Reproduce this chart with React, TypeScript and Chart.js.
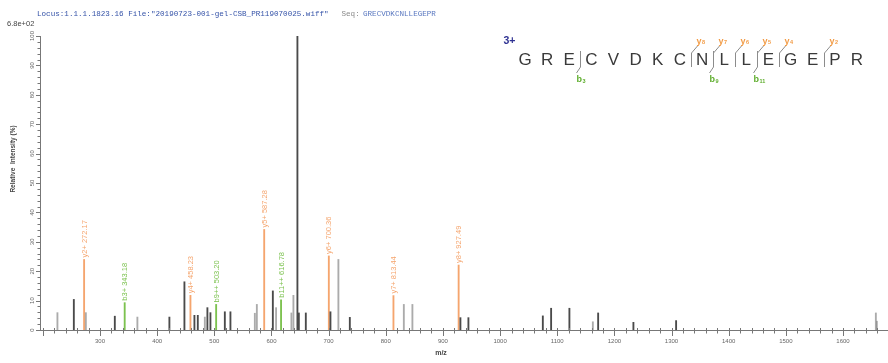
import { useEffect, useRef } from "react";
import { Chart, registerables } from "chart.js";

Chart.register(...registerables);

// ---- header / annotation text ----
const locusText = 'Locus:1.1.1.1823.16 File:"20190723-001-gel-CSB_PR119070025.wiff"';
const seqLabel = "Seq:";
const peptide = "GRECVDKCNLLEGEPR";
const maxIntensityText = "6.8e+02";
const precursorCharge = "3+";

// ---- axis ticks ----
const xTickValues = [300, 400, 500, 600, 700, 800, 900, 1000, 1100, 1200, 1300, 1400, 1500, 1600];
const yTickValues = [0, 10, 20, 30, 40, 50, 60, 70, 80, 90, 100];

// ---- unassigned peaks (m/z, relative intensity %) ----
const darkMz = [254.2, 325.9, 421.4, 447.7, 465.2, 471.1, 487.9, 493.2, 518.4, 528.2, 602.4, 645.4, 647.9, 660.1, 703.2, 737.1, 930.6, 944.6, 1074.8, 1089.3, 1121.3, 1171.6, 1233.3, 1308.0, 1658.5];
const darkInt = [10.4, 4.7, 4.4, 16.4, 5.0, 5.0, 7.6, 5.9, 6.2, 6.2, 13.3, 100, 5.8, 5.8, 6.2, 4.3, 4.2, 4.2, 4.8, 7.4, 7.4, 5.8, 2.6, 3.2, 3.0];
const lightMz = [225.5, 275.2, 365.4, 483.4, 570.9, 574.4, 608.1, 634.9, 638.4, 717.1, 831.6, 846.6, 1162.3, 1657.5];
const lightInt = [5.9, 5.9, 4.4, 4.4, 5.7, 8.7, 7.6, 5.8, 11.8, 24.0, 8.7, 8.7, 2.8, 5.8];

// ---- assigned fragment ions ----
const yIonNames = ["y2+", "y4+", "y5+", "y6+", "y7+", "y8+"];
const yIonMz = [272.17, 458.23, 587.28, 700.36, 813.44, 927.49];
const yIonInt = [24.0, 11.8, 34.2, 25.2, 11.7, 22.1];
const bIonNames = ["b3+", "b9++", "b11++"];
const bIonMz = [343.18, 503.2, 616.78];
const bIonInt = [9.3, 8.7, 10.3];

// fragment sites marked on the peptide
const yFragments = [8, 7, 6, 5, 4, 2];
const bFragments = [3, 9, 11];

const ORANGE = "#f5a56e";
const GREEN = "#7cc24f";
const SEQ_ORANGE = "#f29b45";
const SEQ_GREEN = "#5fae2e";
const DARK = "#4a4a4a";
const LIGHT = "#ababab";

const pts = (xs: number[], ys: number[]) => xs.map((x, i) => ({ x, y: ys[i] }));

const sans = "'Liberation Sans', Arial, sans-serif";

const decorPlugin = {
  id: "spectrumDecor",
  afterDatasetsDraw(chart: any) {
    const { ctx, chartArea } = chart;
    const xs = chart.scales.x;
    const ys = chart.scales.y;
    ctx.save();

    // peak annotations, written upward from the top of each ion stick
    const annotate = (dsIndex: number, names: string[], mzs: number[], color: string) => {
      const meta = chart.getDatasetMeta(dsIndex);
      meta.data.forEach((el: any, i: number) => {
        ctx.save();
        ctx.translate(el.x, el.y - 2);
        ctx.rotate(-Math.PI / 2);
        ctx.font = `7.5px ${sans}`;
        ctx.fillStyle = color;
        ctx.textAlign = "left";
        ctx.textBaseline = "middle";
        ctx.fillText(`${names[i]} ${mzs[i].toFixed(2)}`, 0, 0.5);
        ctx.restore();
      });
    };
    annotate(2, yIonNames, yIonMz, ORANGE);
    annotate(3, bIonNames, bIonMz, GREEN);

    // x ticks: minor every 20, major every 100
    ctx.strokeStyle = "#777";
    ctx.lineWidth = 1;
    const bottom = chartArea.bottom;
    for (let v = 200; v <= xs.max; v += 20) {
      if (v < xs.min) continue;
      const px = Math.round(xs.getPixelForValue(v)) + 0.5;
      const major = v % 100 === 0;
      ctx.beginPath();
      ctx.moveTo(px, bottom - 2);
      ctx.lineTo(px, bottom + (major ? 6 : 3.5));
      ctx.stroke();
    }

    // y ticks: minor every 2, major every 10
    const left = chartArea.left;
    for (let v = 0; v <= 100; v += 2) {
      const py = Math.round(ys.getPixelForValue(v)) + 0.5;
      const major = v % 10 === 0;
      ctx.beginPath();
      ctx.moveTo(left - (major ? 4 : 2.5), py);
      ctx.lineTo(left, py);
      ctx.stroke();
    }

    // y tick labels, rotated
    ctx.fillStyle = "#666";
    ctx.font = `6px ${sans}`;
    yTickValues.forEach((v) => {
      const py = ys.getPixelForValue(v);
      ctx.save();
      ctx.translate(left - 4.5, py);
      ctx.rotate(-Math.PI / 2);
      ctx.textAlign = "center";
      ctx.textBaseline = "bottom";
      ctx.fillText(String(v), 0, 0);
      ctx.restore();
    });

    // axis titles
    ctx.fillStyle = "#444";
    ctx.font = `bold 6.5px ${sans}`;
    ctx.save();
    ctx.translate(13, 159);
    ctx.rotate(-Math.PI / 2);
    ctx.textAlign = "center";
    ctx.textBaseline = "middle";
    ctx.fillText("Relative  Intensity (%)", 0, 0);
    ctx.restore();
    ctx.textAlign = "center";
    ctx.textBaseline = "middle";
    ctx.font = `bold 7px ${sans}`;
    ctx.fillText("m/z", 441, 353);

    // header line
    ctx.textAlign = "left";
    ctx.textBaseline = "middle";
    ctx.font = "7.6px 'Liberation Mono', 'DejaVu Sans Mono', monospace";
    ctx.fillStyle = "#3553a8";
    ctx.fillText(locusText, 37, 13.5);
    ctx.fillStyle = "#8a8a8a";
    ctx.fillText(seqLabel, 341.5, 13.5);
    ctx.fillStyle = "#5a78c0";
    ctx.fillText(peptide, 363, 13.5);

    // base peak intensity
    ctx.fillStyle = "#444";
    ctx.font = `7.5px ${sans}`;
    ctx.fillText(maxIntensityText, 7, 23.5);

    // peptide with fragment brackets
    const x0 = 525;
    const step = 22.13;
    const base = 65;
    ctx.fillStyle = "#2e3192";
    ctx.font = `bold 10.5px ${sans}`;
    ctx.textAlign = "left";
    ctx.textBaseline = "alphabetic";
    ctx.fillText(precursorCharge, 503.5, 44);

    ctx.fillStyle = "#3a3a3a";
    ctx.font = `17px ${sans}`;
    ctx.textAlign = "center";
    peptide.split("").forEach((ch, i) => ctx.fillText(ch, x0 + i * step, base));

    const sepX = (k: number) => Math.round(x0 + (k + 0.5) * step) + 0.5;
    ctx.strokeStyle = "#8c8c8c";
    ctx.lineWidth = 1;
    const drawIonLabel = (letter: string, num: number, x: number, y: number, color: string) => {
      ctx.fillStyle = color;
      ctx.textAlign = "left";
      ctx.font = `bold 9px ${sans}`;
      ctx.fillText(letter, x, y);
      const w = ctx.measureText(letter).width;
      ctx.font = `bold 5.5px ${sans}`;
      ctx.fillText(String(num), x + w + 0.5, y + 0.5);
    };
    yFragments.forEach((n) => {
      const sx = sepX(peptide.length - n - 1);
      ctx.beginPath();
      ctx.moveTo(sx + 6, 46);
      ctx.lineTo(sx, 53);
      ctx.lineTo(sx, 67);
      ctx.stroke();
      drawIonLabel("y", n, sx + 5, 43.5, SEQ_ORANGE);
    });
    bFragments.forEach((n) => {
      const sx = sepX(n - 1);
      ctx.beginPath();
      ctx.moveTo(sx, 51);
      ctx.lineTo(sx, 67);
      ctx.lineTo(sx - 4, 73);
      ctx.stroke();
      drawIonLabel("b", n, sx - 4, 82, SEQ_GREEN);
    });

    ctx.restore();
  },
};

export default function App() {
  const canvasRef = useRef<HTMLCanvasElement | null>(null);

  useEffect(() => {
    document.body.style.margin = "0";
    const canvas = canvasRef.current;
    if (!canvas) return;
    const stick = (data: any[], color: string) => ({
      type: "bar" as const,
      data,
      backgroundColor: color,
      borderWidth: 0,
      barThickness: 1.2,
      grouped: false,
    });
    const chart = new Chart(canvas, {
      type: "bar",
      data: {
        datasets: [
          stick(pts(lightMz, lightInt), LIGHT),
          stick(pts(darkMz, darkInt), DARK),
          stick(pts(yIonMz, yIonInt), ORANGE),
          stick(pts(bIonMz, bIonInt), GREEN),
        ] as any,
      },
      options: {
        responsive: false,
        animation: false,
        devicePixelRatio: 1,
        layout: { padding: { top: 36, right: 1, left: 0, bottom: 0 } },
        plugins: {
          legend: { display: false },
          tooltip: { enabled: false },
          title: { display: false },
        },
        scales: {
          x: {
            type: "linear",
            min: 195,
            max: 1677,
            offset: false,
            afterFit: (s: any) => {
              s.height = 33;
            },
            afterBuildTicks: (s: any) => {
              s.ticks = xTickValues.map((v) => ({ value: v }));
            },
            grid: { display: true, drawOnChartArea: false, color: "rgba(0,0,0,0)", tickLength: 6 },
            border: { display: true, color: "#777", width: 1 },
            ticks: {
              autoSkip: false,
              maxRotation: 0,
              minRotation: 0,
              padding: 2,
              color: "#666",
              font: { size: 6, family: "'Liberation Sans', Arial, sans-serif" },
              callback: (v: any) => String(v),
            },
          },
          y: {
            type: "linear",
            min: 0,
            max: 100,
            afterFit: (s: any) => {
              s.width = 40;
            },
            grid: { display: false },
            border: { display: true, color: "#777", width: 1 },
            ticks: { display: false },
          },
        },
      } as any,
      plugins: [decorPlugin],
    });
    return () => chart.destroy();
  }, []);

  return (
    <div style={{ position: "absolute", left: 0, top: 0, width: 888, height: 363, background: "#fff" }}>
      <canvas ref={canvasRef} width={888} height={363} style={{ display: "block" }} />
    </div>
  );
}
